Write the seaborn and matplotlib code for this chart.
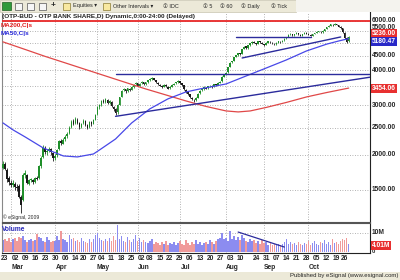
import numpy as np
import pandas as pd
import matplotlib
matplotlib.use("Agg")
import matplotlib.pyplot as plt
import matplotlib.transforms as mtrans
from matplotlib.patches import Rectangle
from matplotlib.ticker import NullLocator
import seaborn as sns

# ---------------- data ----------------
holidays = ['2009-04-13', '2009-05-01', '2009-06-01', '2009-08-20', '2009-08-21', '2009-10-23']
dates = pd.bdate_range('2009-02-20', '2009-10-28')
dates = dates[~dates.isin(pd.to_datetime(holidays))]

opens = [
    1800, 1850, 1760, 1650, 1590, 1560, 1580, 1540, 1550, 1420,
    1380, 1690, 1700, 1580, 1630, 1620, 1600, 1660, 1650, 1820,
    1960, 2120, 2040, 2070, 2090, 2030, 1950, 1990, 2090, 2240,
    2190, 2270, 2330, 2400, 2510, 2630, 2590, 2670, 2600, 2520,
    2590, 2640, 2550, 2510, 2610, 2580, 2670, 2790, 2960, 3010,
    3110, 3080, 3140, 3060, 3090, 2970, 2910, 2830, 3010, 3220,
    3390, 3420, 3370, 3440, 3410, 3490, 3560, 3590, 3520, 3590,
    3630, 3560, 3630, 3690, 3720, 3750, 3690, 3610, 3550, 3510,
    3490, 3540, 3490, 3450, 3490, 3550, 3590, 3630, 3650, 3590,
    3530, 3410, 3340, 3290, 3190, 3140, 3130, 3190, 3310, 3390,
    3430, 3470, 3450, 3510, 3520, 3490, 3560, 3550, 3610, 3650,
    3790, 3860, 3930, 4110, 4260, 4310, 4460, 4530, 4600, 4570,
    4760, 4860, 4790, 4910, 4990, 5040, 4990, 4960, 5070, 5010,
    4950, 4930, 5010, 5050, 5010, 4970, 4950, 5010, 5050, 5030,
    5110, 5190, 5260, 5360, 5390, 5330, 5390, 5410, 5350, 5310,
    5390, 5430, 5390, 5340, 5310, 5390, 5430, 5490, 5490, 5460,
    5530, 5610, 5710, 5760, 5810, 5790, 5840, 5790, 5710, 5640,
    5440, 5190, 5060]
highs = [
    1900, 1880, 1790, 1680, 1620, 1620, 1600, 1580, 1570, 1440,
    1720, 1760, 1710, 1640, 1660, 1640, 1670, 1680, 1840, 1980,
    2160, 2150, 2100, 2140, 2110, 2040, 2010, 2100, 2260, 2270,
    2290, 2350, 2420, 2540, 2660, 2680, 2720, 2700, 2620, 2600,
    2680, 2660, 2580, 2640, 2630, 2690, 2800, 2980, 3040, 3130,
    3150, 3180, 3160, 3120, 3100, 2990, 2940, 3020, 3220, 3400,
    3450, 3440, 3470, 3460, 3500, 3570, 3620, 3600, 3600, 3660,
    3640, 3640, 3700, 3740, 3790, 3760, 3700, 3620, 3570, 3530,
    3570, 3560, 3500, 3500, 3560, 3600, 3640, 3680, 3660, 3600,
    3540, 3430, 3360, 3300, 3210, 3170, 3200, 3320, 3400, 3440,
    3500, 3480, 3520, 3540, 3530, 3580, 3570, 3620, 3660, 3800,
    3870, 3940, 4120, 4270, 4320, 4470, 4540, 4620, 4610, 4770,
    4870, 4880, 4920, 5000, 5090, 5060, 5010, 5100, 5090, 5030,
    4970, 5020, 5080, 5070, 5030, 4990, 5020, 5080, 5070, 5120,
    5200, 5270, 5370, 5430, 5400, 5400, 5450, 5430, 5370, 5400,
    5460, 5450, 5410, 5360, 5400, 5440, 5500, 5530, 5510, 5540,
    5620, 5720, 5780, 5850, 5830, 5880, 5860, 5800, 5730, 5660,
    5460, 5230, 5300]
lows = [
    1780, 1760, 1600, 1560, 1530, 1540, 1500, 1490, 1400, 1240,
    1370, 1650, 1570, 1560, 1600, 1580, 1590, 1620, 1640, 1800,
    1940, 2020, 2000, 2050, 2000, 1900, 1920, 1970, 2080, 2170,
    2180, 2240, 2300, 2380, 2490, 2550, 2570, 2580, 2480, 2500,
    2570, 2540, 2470, 2500, 2540, 2570, 2650, 2780, 2920, 2990,
    3050, 3060, 3020, 3030, 2960, 2870, 2760, 2800, 3000, 3200,
    3360, 3330, 3350, 3380, 3400, 3470, 3540, 3500, 3510, 3570,
    3540, 3550, 3610, 3670, 3700, 3680, 3600, 3540, 3500, 3460,
    3480, 3480, 3420, 3430, 3480, 3530, 3570, 3610, 3580, 3520,
    3400, 3330, 3260, 3180, 3120, 3080, 3110, 3180, 3290, 3370,
    3410, 3420, 3440, 3490, 3460, 3480, 3520, 3540, 3590, 3640,
    3770, 3840, 3920, 4100, 4230, 4300, 4440, 4510, 4520, 4560,
    4740, 4760, 4770, 4890, 4970, 4980, 4920, 4950, 5000, 4940,
    4880, 4910, 4990, 5000, 4960, 4910, 4930, 4990, 5000, 5020,
    5090, 5170, 5240, 5340, 5300, 5310, 5370, 5340, 5280, 5300,
    5370, 5380, 5330, 5280, 5300, 5370, 5410, 5470, 5430, 5440,
    5510, 5590, 5690, 5740, 5750, 5770, 5780, 5700, 5620, 5420,
    5150, 4980, 5040]
closes = [
    1850, 1780, 1640, 1600, 1560, 1590, 1540, 1520, 1420, 1330,
    1690, 1720, 1590, 1620, 1630, 1600, 1650, 1640, 1820, 1950,
    2120, 2050, 2060, 2100, 2040, 1940, 1980, 2080, 2230, 2200,
    2260, 2320, 2380, 2500, 2620, 2580, 2680, 2600, 2520, 2580,
    2640, 2560, 2500, 2620, 2570, 2660, 2780, 2950, 3000, 3100,
    3080, 3150, 3050, 3100, 2980, 2900, 2820, 3000, 3200, 3380,
    3420, 3360, 3450, 3400, 3480, 3550, 3600, 3520, 3580, 3640,
    3560, 3620, 3680, 3720, 3760, 3700, 3620, 3560, 3520, 3480,
    3550, 3500, 3440, 3480, 3540, 3580, 3620, 3660, 3600, 3540,
    3420, 3350, 3280, 3200, 3150, 3120, 3180, 3300, 3380, 3420,
    3480, 3440, 3500, 3520, 3480, 3560, 3540, 3600, 3640, 3780,
    3850, 3920, 4100, 4250, 4300, 4450, 4520, 4600, 4560, 4750,
    4850, 4780, 4900, 4980, 5050, 5000, 4950, 5080, 5020, 4960,
    4920, 5000, 5060, 5020, 4980, 4940, 5000, 5060, 5020, 5100,
    5180, 5250, 5350, 5400, 5320, 5380, 5420, 5360, 5300, 5380,
    5440, 5400, 5350, 5300, 5380, 5420, 5480, 5500, 5450, 5520,
    5600, 5700, 5750, 5820, 5780, 5850, 5800, 5720, 5650, 5450,
    5200, 5050, 5236]
volumes = [  # millions
    6.5, 7.0, 6.0, 7.5, 5.5, 6.8, 7.2, 6.0, 8.0, 7.5,
    8.5, 6.2, 5.0, 6.5, 7.0, 5.8, 6.3, 9.5, 8.0, 7.2,
    6.0, 5.5, 7.8, 6.4, 5.2, 6.0, 5.7, 8.2, 6.5, 10.8,
    7.0, 6.2, 5.5, 9.0, 6.8, 7.5, 5.8, 6.3, 5.0, 7.4,
    6.0, 5.5, 4.8, 6.6, 5.3, 7.0, 8.8, 10.2, 7.5, 6.5,
    5.6, 6.8, 5.9, 7.4, 6.0, 8.5, 6.3, 14.0, 7.0, 8.2,
    6.0, 5.4, 7.7, 6.2, 5.5, 6.7, 9.2, 6.0, 7.5, 5.2,
    6.4, 5.0, 4.6, 5.8, 6.9, 4.2, 5.5, 4.8, 3.9, 5.1,
    4.4, 6.0, 3.8, 4.9, 4.1, 5.3, 3.6, 4.5, 5.8, 4.0,
    3.5, 6.2, 4.7, 3.9, 5.0, 4.3, 6.5, 4.0, 5.2, 3.8,
    4.6, 5.5, 4.2, 6.3, 5.0, 4.4, 5.8, 6.6, 7.2, 10.0,
    6.8, 7.5, 6.0, 10.8, 7.0, 8.5, 6.2, 7.8, 6.4, 9.0,
    7.6, 6.0, 5.4, 7.0, 5.8, 6.5, 4.8, 5.6, 4.2, 6.2,
    4.5, 5.0, 3.9, 4.6, 3.5, 4.2, 3.8, 4.4, 3.6, 4.0,
    5.5, 6.8, 4.3, 5.0, 4.0, 4.6, 3.8, 5.2, 4.4, 3.9,
    4.8, 4.1, 5.6, 3.7, 4.5, 5.9, 4.2, 3.8, 5.0, 4.6,
    6.2, 4.4, 5.2, 3.9, 6.6, 4.8, 5.5, 4.3, 5.8, 7.0,
    6.2, 7.4, 4.01]

# moving averages (trading-day number, value)
ma200_days = [0, 11, 21, 31, 41, 51, 61, 71, 81, 91, 101, 111, 117, 123, 131, 141, 151, 161, 172]
ma200_vals = [5043, 4740, 4477, 4245, 4024, 3815, 3617, 3430, 3266, 3109, 2972, 2864, 2841,
              2864, 2948, 3071, 3212, 3330, 3454]
ma50_days = [0, 5, 11, 20, 30, 37, 45, 48, 56, 64, 73, 82, 91, 98, 111, 121, 131, 141, 151, 161, 167, 172]
ma50_vals = [2596, 2452, 2315, 2115, 1981, 1965, 2013, 2080, 2276, 2595, 2911, 3160, 3346, 3430,
             3573, 3815, 4072, 4350, 4682, 4950, 5080, 5180]

# drawn trend lines (trading-day number, price)
trend_days = [[56, 183], [56, 183], [116, 153], [119, 168]]
trend_vals = [[3890, 3890], [2740, 3780], [5262, 5262], [4420, 5250]]
vol_trend_days = [117, 140]
vol_trend_vals = [10.5, 2.6]

price_levels = [1500, 2000, 2500, 3000, 3500, 4000, 4500, 5000, 5500, 6000]
price_labels = ['1500.00', '2000.00', '2500.00', '3000.00', '4000.00', '4500.00', '5500.00', '6000.00']
price_label_vals = [1500, 2000, 2500, 3000, 4000, 4500, 5660, 6000]
week_ticks = ['2009-02-23', '2009-03-02', '2009-03-09', '2009-03-16', '2009-03-23', '2009-03-30',
              '2009-04-06', '2009-04-14', '2009-04-20', '2009-04-27', '2009-05-04', '2009-05-11',
              '2009-05-18', '2009-05-25', '2009-06-02', '2009-06-08', '2009-06-15', '2009-06-22',
              '2009-06-29', '2009-07-06', '2009-07-13', '2009-07-20', '2009-07-27', '2009-08-03',
              '2009-08-10', '2009-08-24', '2009-08-31', '2009-09-07', '2009-09-14', '2009-09-21',
              '2009-09-28', '2009-10-05', '2009-10-12', '2009-10-19', '2009-10-26']
month_names = ['Mar', 'Apr', 'May', 'Jun', 'Jul', 'Aug', 'Sep', 'Oct']
month_starts = ['2009-03-02', '2009-04-01', '2009-05-04', '2009-06-02', '2009-07-01',
                '2009-08-03', '2009-09-01', '2009-10-01']

title = "(OTP-BUD - OTP BANK SHARE,D) Dynamic,0:00-24:00 (Delayed)"

# ---------------- style ----------------
sns.set_style("white")
plt.rcParams['font.family'] = ['Liberation Sans', 'DejaVu Sans']

UP = '#1f8f2a'
DOWN = '#1a1a1a'
VUP = '#8c8cf0'
VDN = '#f09a9a'
NAVY = '#2b2b9c'

fig = plt.figure(figsize=(4, 2.8), dpi=100)
fig.patch.set_facecolor('white')


def fx(px):
    return px / 400.0


def fy(py):
    return 1 - py / 280.0


ax = fig.add_axes([fx(2), fy(222), fx(368), 210 / 280.0])
axv = fig.add_axes([fx(2), fy(253), fx(368), 30 / 280.0], sharex=ax)

n = len(closes)
x = np.arange(n)
o = np.array(opens, float)
c = np.array(closes, float)
h = np.array(highs, float)
l = np.array(lows, float)
up = c >= o
cols = np.where(up, UP, DOWN)

ax.set_yscale('log')
ax.set_ylim(1153, 6442)
ax.set_xlim(-0.49, 182.6)

# grid
grid_kw = dict(color='#9a9a9a', lw=0.6, ls=(0, (1, 2)), zorder=0)
for lv in price_levels:
    ax.axhline(lv, **grid_kw)
pos = {d: i for i, d in enumerate(dates.strftime('%Y-%m-%d'))}
for ms in month_starts:
    ax.axvline(pos[ms] - 2, **grid_kw)
    axv.axvline(pos[ms] - 2, **grid_kw)
axv.axhline(10, **grid_kw)

# candles
ax.vlines(x, l, h, colors=cols, lw=0.6, zorder=3)
blo = np.minimum(o, c)
bhi = np.maximum(o, c)
bhi = np.maximum(bhi, blo * 1.004)
ax.bar(x, bhi - blo, bottom=blo, width=0.8, color=cols, lw=0, zorder=3)

# moving averages
sns.lineplot(x=ma200_days, y=ma200_vals, ax=ax, color='#e04848', lw=0.9, zorder=4)
sns.lineplot(x=ma50_days, y=ma50_vals, ax=ax, color='#4848e8', lw=0.9, zorder=4)

# trend lines
for td, tv in zip(trend_days, trend_vals):
    ax.plot(td, tv, color=NAVY, lw=1.0, zorder=5)
ax.axhline(6000, color='#e82828', lw=1.3, zorder=5)

# volume
vcols = np.where(up, VUP, VDN)
axv.bar(x, volumes, width=0.8, color=vcols, lw=0)
axv.plot(vol_trend_days, vol_trend_vals, color=NAVY, lw=0.9)
axv.set_ylim(-0.53, 15.26)

# axes cosmetics
for a in (ax, axv):
    a.yaxis.set_major_locator(NullLocator())
    a.yaxis.set_minor_locator(NullLocator())
    for s in a.spines.values():
        s.set_linewidth(0.8)
    a.spines['left'].set_color('#888888')
    a.spines['right'].set_color('#222222')
ax.spines['top'].set_visible(False)
ax.spines['bottom'].set_color('#555555')
axv.spines['top'].set_color('#555555')
axv.spines['bottom'].set_color('#222222')
ax.tick_params(axis='x', bottom=False, labelbottom=False)
ax.set_xlabel('')
ax.set_ylabel('')
axv.set_ylabel('')

wt = [pos[d] for d in week_ticks]
axv.set_xticks(wt)
axv.set_xticklabels([d[-2:] for d in week_ticks], fontsize=4.8, fontweight='bold')
axv.tick_params(axis='x', length=0, pad=1.3)
tr_m = mtrans.blended_transform_factory(axv.transData, axv.transAxes)
for mn, ms in zip(month_names, month_starts):
    axv.text(pos[ms] + 1, -0.47, mn, transform=tr_m, ha='center', va='center',
             fontsize=4.8, fontweight='bold')

# right-hand price labels
tr_p = mtrans.blended_transform_factory(ax.transAxes, ax.transData)
lab_x = (372 - 2) / 368.0
for v, t in zip(price_label_vals, price_labels):
    ax.text(lab_x, v, t, transform=tr_p, ha='left', va='center', fontsize=4.8,
            fontweight='bold', clip_on=False)
ax.text(lab_x, 5380, '5236.00', transform=tr_p, ha='left', va='center', fontsize=4.8,
        fontweight='bold', color='white', clip_on=False, zorder=10,
        bbox=dict(boxstyle='square,pad=0.15', fc='#e83030', ec='none'))
ax.text(lab_x, 5062, '5180.47', transform=tr_p, ha='left', va='center', fontsize=4.8,
        fontweight='bold', color='white', clip_on=False, zorder=10,
        bbox=dict(boxstyle='square,pad=0.15', fc='#2828c8', ec='none'))
ax.text(lab_x, 3454, '3454.06', transform=tr_p, ha='left', va='center', fontsize=4.8,
        fontweight='bold', color='white', clip_on=False, zorder=10,
        bbox=dict(boxstyle='square,pad=0.15', fc='#e83030', ec='none'))
tr_v = mtrans.blended_transform_factory(axv.transAxes, axv.transData)
axv.text(lab_x, 10, '10M', transform=tr_v, ha='left', va='center', fontsize=4.8,
         fontweight='bold', clip_on=False)
axv.text(lab_x, 3.2, '4.01M', transform=tr_v, ha='left', va='center', fontsize=4.8,
         fontweight='bold', color='white', clip_on=False, zorder=10,
         bbox=dict(boxstyle='square,pad=0.15', fc='#e83030', ec='none'))
axv.text(lab_x, 0.2, '0', transform=tr_v, ha='left', va='center', fontsize=4.2,
         fontweight='bold', clip_on=False)

# in-pane texts
ax.text(0.002, 0.0085, '\u00a9 eSignal, 2009', transform=ax.transAxes, fontsize=3.6,
        va='bottom', ha='left')
fig.text(fx(2), fy(16.5), title, fontsize=4.6, fontweight='bold', va='center', ha='left')
fig.text(fx(1), fy(25), 'MA200,C|s', fontsize=4.6, fontweight='bold', va='center',
         ha='left', color='#e02020')
fig.text(fx(1), fy(33.5), 'MA50,C|s', fontsize=4.6, fontweight='bold', va='center',
         ha='left', color='#2828d8')
fig.text(fx(2), fy(229.5), 'Volume', fontsize=4.8, fontweight='bold', va='center',
         ha='left', color='#2828b8')

# toolbar
fig.patches.append(Rectangle((0, fy(12)), fx(296), 12 / 280.0, transform=fig.transFigure,
                             fc='#ece9d8', ec='#c8c4b0', lw=0.5, zorder=0))
fig.patches.append(Rectangle((fx(296), fy(12)), fx(104), 12 / 280.0, transform=fig.transFigure,
                             fc='#f4f3ee', ec='none', zorder=0))
fig.patches.append(Rectangle((fx(2), fy(10)), fx(9), 8 / 280.0, transform=fig.transFigure,
                             fc='#2f9a3a', ec='#1d5e22', lw=0.5))
for px in (15, 27, 39):
    fig.patches.append(Rectangle((fx(px), fy(10)), fx(7), 7 / 280.0, transform=fig.transFigure,
                                 fc='#f6f6f6', ec='#555555', lw=0.5))
fig.text(fx(53), fy(6), '+', fontsize=6, fontweight='bold', ha='center', va='center')
for px in (63, 103):
    fig.patches.append(Rectangle((fx(px), fy(10)), fx(7), 7 / 280.0, transform=fig.transFigure,
                                 fc='#f8e8a0', ec='#8a7a30', lw=0.5))
tb_kw = dict(fontsize=4.0, va='center', ha='left',
             family=['Liberation Sans', 'DejaVu Sans', 'Noto Sans CJK SC'])
fig.text(fx(73), fy(6), 'Equities \u25be', **tb_kw)
fig.text(fx(113), fy(6), 'Other Intervals \u25be', **tb_kw)
for px, t in ((163, 'IDC'), (203, '5'), (220, '60'), (241, 'Daily'), (271, 'Tick')):
    fig.text(fx(px), fy(6), '\u2460 ' + t, **tb_kw)

# footer
fig.patches.append(Rectangle((0, 0), 1, 8 / 280.0, transform=fig.transFigure,
                             fc='#ece9d8', ec='none', zorder=0))
fig.text(fx(398), fy(276), 'Published by eSignal (www.esignal.com)', fontsize=4.3,
         ha='right', va='center')

fig.savefig('out.png', dpi=100)
